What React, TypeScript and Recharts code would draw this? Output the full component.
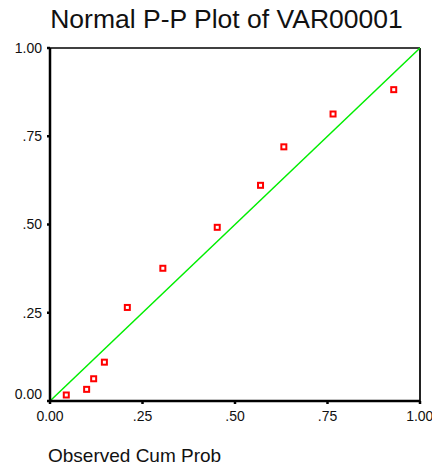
import { ScatterChart, Scatter, XAxis, YAxis, ReferenceLine } from 'recharts'

const observedCumProb = [0.044, 0.099, 0.118, 0.147, 0.209, 0.305, 0.452, 0.569, 0.632, 0.765, 0.929]
const expectedCumProb = [0.017, 0.033, 0.063, 0.110, 0.265, 0.376, 0.492, 0.611, 0.720, 0.813, 0.882]
const axisTicks = [0, 0.25, 0.5, 0.75, 1]

const FONT = '"Liberation Sans", Arial, sans-serif'

const points = observedCumProb.map((x, i) => ({ x, y: expectedCumProb[i] }))

const fmt = (v: number) => (v === 0 || v === 1 ? v.toFixed(2) : v.toFixed(2).slice(1))

function HollowSquare(props: any) {
  const { cx, cy } = props
  return <rect x={cx - 2.5} y={cy - 2.5} width={5} height={5} fill="#fff" stroke="#ff0000" strokeWidth={2} />
}

function YTick(props: any) {
  const { x, y, payload } = props
  const shift = payload.value === 0 ? -7 : 0
  return (
    <text x={x} y={y + shift} dy="0.355em" textAnchor="end" fontSize={14} fontFamily={FONT} fill="#111">
      {fmt(payload.value)}
    </text>
  )
}

export default function App() {
  return (
    <div style={{ position: 'absolute', left: 0, top: 0, width: 432, height: 467, background: '#fff' }}>
      <ScatterChart width={432} height={467} margin={{ top: 48, right: 12, bottom: 36, left: 0 }}>
        <XAxis
          type="number"
          dataKey="x"
          domain={[0, 1]}
          ticks={axisTicks}
          tickFormatter={fmt}
          height={30}
          tickSize={3}
          tickMargin={7}
          axisLine={{ stroke: '#000', strokeWidth: 2.5 }}
          tickLine={{ stroke: '#000', strokeWidth: 2.5 }}
          tick={{ fontSize: 14, fontFamily: FONT, fill: '#111' }}
        />
        <YAxis
          type="number"
          dataKey="y"
          domain={[0, 1]}
          ticks={axisTicks}
          width={50}
          tickSize={3}
          tickMargin={5}
          axisLine={{ stroke: '#000', strokeWidth: 2.5 }}
          tickLine={{ stroke: '#000', strokeWidth: 2.5 }}
          tick={<YTick />}
        />
        <ReferenceLine y={1} stroke="#000" strokeWidth={1.5} />
        <ReferenceLine x={1} stroke="#222" strokeWidth={2} />
        <ReferenceLine
          segment={[{ x: 0, y: 0 }, { x: 1, y: 1 }]}
          stroke="#00ee00"
          strokeWidth={1.5}
        />
        <Scatter data={points} shape={<HollowSquare />} isAnimationActive={false} />
      </ScatterChart>
      <svg width={432} height={467} style={{ position: 'absolute', left: 0, top: 0, pointerEvents: 'none' }}>
        <text x={226.5} y={28} textAnchor="middle" fontSize={26.5} fontFamily={FONT} fill="#111">
          Normal P-P Plot of VAR00001
        </text>
        <text x={48} y={462} fontSize={19} fontFamily={FONT} fill="#111">
          Observed Cum Prob
        </text>
      </svg>
    </div>
  )
}
